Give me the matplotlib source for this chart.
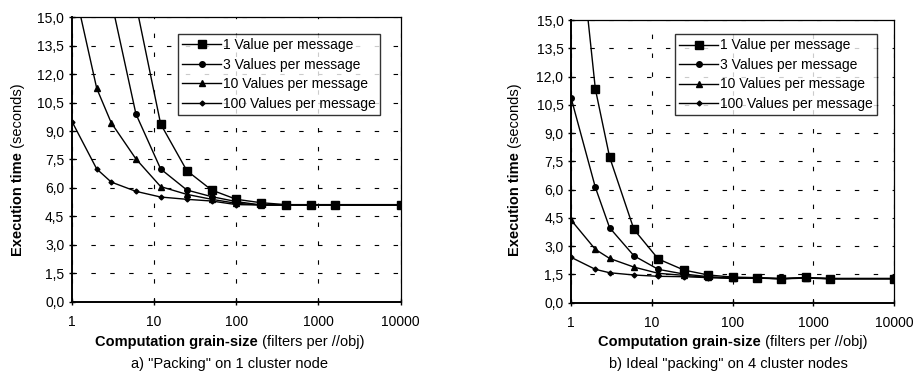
import matplotlib
matplotlib.use("Agg")
import matplotlib.pyplot as plt
from matplotlib.ticker import FixedLocator, FuncFormatter, NullLocator

plt.rcParams['font.family'] = ['Liberation Sans', 'DejaVu Sans']

# grain sizes (filters per //obj)
grain = [1, 2, 3, 6, 12, 25, 50, 100, 200, 400, 800, 1600, 10000]

labels = ["1 Value per message", "3 Values per message",
          "10 Values per message", "100 Values per message"]

# a) "Packing" on 1 cluster node (first points run off the top)
a_v1 = [45.0, 30.0, 22.0, 15.7, 9.37, 6.91, 5.89, 5.40, 5.22, 5.12, 5.12, 5.12, 5.12]
a_v3 = [40.0, 25.0, 15.9, 9.90, 7.00, 5.89, 5.54, 5.28, 5.10, 5.10, 5.10, 5.10, 5.10]
a_v10 = [17.1, 11.25, 9.44, 7.53, 6.07, 5.66, 5.40, 5.19, 5.10, 5.10, 5.10, 5.10, 5.10]
a_v100 = [9.50, 7.00, 6.31, 5.82, 5.52, 5.40, 5.31, 5.12, 5.10, 5.10, 5.10, 5.10, 5.10]

# b) Ideal "packing" on 4 cluster nodes
b_v1 = [23.6, 11.34, 7.73, 3.89, 2.32, 1.73, 1.47, 1.36, 1.33, 1.26, 1.34, 1.27, 1.27]
b_v3 = [10.88, 6.12, 3.98, 2.49, 1.77, 1.52, 1.38, 1.29, 1.30, 1.28, 1.30, 1.28, 1.28]
b_v10 = [4.39, 2.83, 2.35, 1.89, 1.56, 1.45, 1.34, 1.33, 1.31, 1.28, 1.32, 1.28, 1.28]
b_v100 = [2.41, 1.77, 1.59, 1.47, 1.40, 1.38, 1.33, 1.29, 1.30, 1.28, 1.30, 1.28, 1.28]

yticks = [0, 1.5, 3, 4.5, 6, 7.5, 9, 10.5, 12, 13.5, 15]
xticks = [1, 10, 100, 1000, 10000]

markers = [('s', 5.5), ('o', 4), ('^', 4), ('D', 2.5)]

fig = plt.figure(figsize=(9.16, 3.72), dpi=100)
ax1 = fig.add_axes([0.0786, 0.189, 0.3588, 0.7645])
ax2 = fig.add_axes([0.6234, 0.1863, 0.3529, 0.7597])


def setup(ax, series, anchor):
    for s, lab, (m, ms) in zip(series, labels, markers):
        ax.plot(grain, s, color='black', lw=1.0, marker=m, markersize=ms,
                markerfacecolor='black', markeredgecolor='black', label=lab)
    ax.set_xscale('log')
    ax.set_xlim(1, 10000)
    ax.set_ylim(0, 15)
    ax.xaxis.set_major_locator(FixedLocator(xticks))
    ax.xaxis.set_minor_locator(NullLocator())
    ax.xaxis.set_major_formatter(FuncFormatter(lambda v, p: "%d" % round(v)))
    ax.yaxis.set_major_locator(FixedLocator(yticks))
    ax.yaxis.set_major_formatter(FuncFormatter(lambda v, p: ("%.1f" % v).replace('.', ',')))
    ax.grid(True, color='black', lw=0.8, linestyle=(0, (4, 13)))
    ax.tick_params(direction='inout', length=5, width=1, labelsize=10, pad=3)
    ax.tick_params(axis='x', pad=7)
    for sp in ['top', 'right']:
        ax.spines[sp].set_linewidth(0.9)
    for sp in ['left', 'bottom']:
        ax.spines[sp].set_linewidth(1.4)
    leg = ax.legend(loc='upper right', bbox_to_anchor=anchor, fontsize=10,
                    frameon=True, fancybox=False, edgecolor='black', handlelength=2.8,
                    handletextpad=0.15, borderpad=0.3, labelspacing=0.4,
                    borderaxespad=0)
    leg.get_frame().set_linewidth(1.0)


setup(ax1, [a_v1, a_v3, a_v10, a_v100], (0.937, 0.941))
setup(ax2, [b_v1, b_v3, b_v10, b_v100], (0.9465, 0.950))

fig.canvas.draw()
renderer = fig.canvas.get_renderer()
W, H = fig.bbox.width, fig.bbox.height


def two_part(x, y, bold, normal, rotation=0, size=10.5):
    # bold part + normal part, centred together at pixel (x, y)
    t1 = fig.text(0, 0, bold, fontweight='bold', fontsize=size, rotation=rotation,
                  ha='left', va='center', transform=None)
    t2 = fig.text(0, 0, normal, fontsize=size, rotation=rotation,
                  ha='left', va='center', transform=None)
    b1 = t1.get_window_extent(renderer)
    b2 = t2.get_window_extent(renderer)
    if rotation == 0:
        total = b1.width + b2.width
        x0 = x - total / 2
        t1.set_position((x0, y))
        t2.set_position((x0 + b1.width, y))
    else:
        total = b1.height + b2.height
        y0 = y - total / 2
        t1.set_position((x, y0))
        t1.set_va('bottom')
        t1.set_ha('center')
        t2.set_position((x, y0 + b1.height))
        t2.set_va('bottom')
        t2.set_ha('center')


two_part(230, H - 342, "Computation grain-size", " (filters per //obj)")
two_part(733, H - 342, "Computation grain-size", " (filters per //obj)")
two_part(18, H - 170, "Execution time", " (seconds)", rotation=90)
two_part(515, H - 170, "Execution time", " (seconds)", rotation=90)

fig.text(230 / W, 1 - 364 / H, 'a) "Packing" on 1 cluster node', ha='center',
         va='center', fontsize=10.5)
fig.text(728 / W, 1 - 364 / H, 'b) Ideal "packing" on 4 cluster nodes', ha='center',
         va='center', fontsize=10.5)

fig.savefig("out.png", dpi=100)
